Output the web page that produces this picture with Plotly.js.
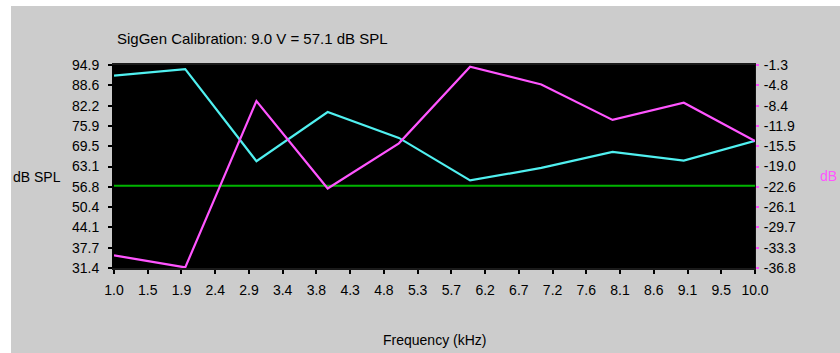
<!DOCTYPE html>
<html>
<head>
<meta charset="utf-8">
<script src="https://cdn.plot.ly/plotly-3.0.1.min.js"></script>
<style>
html,body{margin:0;padding:0;background:#ffffff;width:840px;height:353px;overflow:hidden;}
#chart{position:absolute;left:11px;top:6px;width:829px;height:347px;}
</style>
</head>
<body>
<div id="chart"></div>
<script>
// Data
var freqKHz = [1, 2, 3, 4, 5, 6, 7, 8, 9, 10];
var splValues = [91.6, 93.6, 64.8, 80.2, 72.1, 58.8, 62.7, 67.7, 65.0, 71.2];   // dB SPL (left axis, cyan)
var dbValues = [-34.6, -36.7, -7.6, -22.9, -15.0, -1.6, -4.7, -10.9, -7.9, -14.6]; // dB (right axis, magenta)
var calibrationSPL = 57.1;
var calibrationVolts = 9.0;

var xTickVals = [];
var xTickText = ['1.0','1.5','1.9','2.4','2.9','3.4','3.8','4.3','4.8','5.3','5.7','6.2','6.7','7.2','7.6','8.1','8.6','9.1','9.5','10.0'];
for (var i = 0; i < xTickText.length; i++) xTickVals.push(1 + 9 * i / (xTickText.length - 1));

var leftTickText = ['31.4','37.7','44.1','50.4','56.8','63.1','69.5','75.9','82.2','88.6','94.9'];
var rightTickText = ['-36.8','-33.3','-29.7','-26.1','-22.6','-19.0','-15.5','-11.9','-8.4','-4.8','-1.3'];
var leftRange = [31.4, 94.9];
var rightRange = [-36.8, -1.3];
var leftTickVals = [], rightTickVals = [];
for (var j = 0; j < leftTickText.length; j++) {
  leftTickVals.push(leftRange[0] + (leftRange[1] - leftRange[0]) * j / (leftTickText.length - 1));
  rightTickVals.push(rightRange[0] + (rightRange[1] - rightRange[0]) * j / (rightTickText.length - 1));
}

var FONT = 'Liberation Sans, Arial, sans-serif';

var traces = [
  {
    x: [freqKHz[0], freqKHz[freqKHz.length - 1]],
    y: [calibrationSPL, calibrationSPL],
    mode: 'lines', line: {color: '#00b400', width: 2}, yaxis: 'y', hoverinfo: 'skip'
  },
  {
    x: freqKHz, y: splValues, mode: 'lines',
    line: {color: '#50f0f0', width: 2.2}, yaxis: 'y'
  },
  {
    x: freqKHz, y: dbValues, mode: 'lines',
    line: {color: '#ff55ff', width: 2.2}, yaxis: 'y2'
  }
];

var layout = {
  width: 829, height: 347,
  margin: {l: 103, r: 85, t: 59, b: 85},
  paper_bgcolor: '#cccccc',
  plot_bgcolor: '#000000',
  showlegend: false,
  font: {family: FONT, size: 14, color: '#000000'},
  xaxis: {
    range: [1, 10], tickmode: 'array', tickvals: xTickVals, ticktext: xTickText,
    ticks: 'outside', ticklen: 4, tickwidth: 2, tickcolor: '#000000',
    showgrid: false, zeroline: false,
    showline: true, linecolor: '#1a1a1a', linewidth: 2, mirror: true,
    tickfont: {family: FONT, size: 14, color: '#000000'},
    ticklabelstandoff: 4
  },
  yaxis: {
    range: leftRange, tickmode: 'array', tickvals: leftTickVals, ticktext: leftTickText,
    ticks: 'outside', ticklen: 4, tickwidth: 2, tickcolor: '#000000',
    showgrid: false, zeroline: false,
    showline: true, linecolor: '#000000', linewidth: 2,
    tickfont: {family: FONT, size: 14, color: '#000000'},
    ticklabelstandoff: 6
  },
  yaxis2: {
    range: rightRange, overlaying: 'y', side: 'right',
    tickmode: 'array', tickvals: rightTickVals, ticktext: rightTickText,
    ticks: 'outside', ticklen: 3, tickwidth: 2, tickcolor: '#ff55ff',
    showgrid: false, zeroline: false,
    showline: true, linecolor: '#111111', linewidth: 1,
    tickfont: {family: FONT, size: 14, color: '#000000'},
    ticklabelstandoff: 2
  },
  annotations: [
    {
      text: 'SigGen Calibration: ' + calibrationVolts.toFixed(1) + ' V = ' + calibrationSPL.toFixed(1) + ' dB SPL',
      xref: 'paper', yref: 'paper', x: 0.002, y: 1.133, xanchor: 'left', yanchor: 'middle',
      showarrow: false, font: {family: FONT, size: 15, color: '#000000'}
    },
    {
      text: 'dB SPL', xref: 'paper', yref: 'paper', x: -0.12, y: 0.448,
      xanchor: 'center', yanchor: 'middle', showarrow: false,
      font: {family: FONT, size: 14, color: '#000000'}
    },
    {
      text: 'dB', xref: 'paper', yref: 'paper', x: 1.114, y: 0.453,
      xanchor: 'center', yanchor: 'middle', showarrow: false,
      font: {family: FONT, size: 14, color: '#ff55ff'}
    },
    {
      text: 'Frequency (kHz)', xref: 'paper', yref: 'paper', x: 0.5, y: -0.355,
      xanchor: 'center', yanchor: 'middle', showarrow: false,
      font: {family: FONT, size: 14, color: '#000000'}
    }
  ]
};

Plotly.newPlot('chart', traces, layout, {staticPlot: true, displayModeBar: false});
</script>
</body>
</html>
